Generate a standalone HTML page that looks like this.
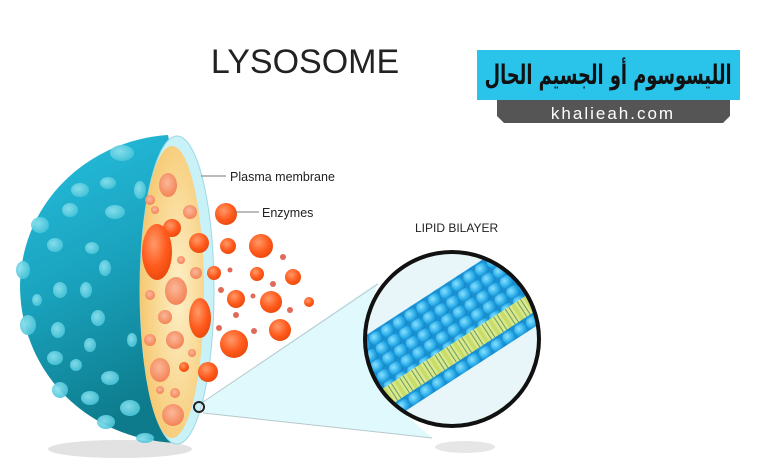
<!DOCTYPE html>
<html><head><meta charset="utf-8"><style>
html,body{margin:0;padding:0;background:#fff;}
svg{display:block}
#ar{position:absolute;left:477px;top:50px;width:263px;height:50px;display:flex;align-items:center;justify-content:center;overflow:visible}
#ar span{display:inline-block;white-space:nowrap;font-family:"DejaVu Sans",sans-serif;font-weight:bold;font-size:27px;color:#111;transform:scaleX(0.66);direction:rtl}
</style></head><body>
<div style="position:relative;width:780px;height:470px">
<svg width="780" height="470" viewBox="0 0 780 470" xmlns="http://www.w3.org/2000/svg">
<defs>
<linearGradient id="dome" x1="0" y1="0" x2="0.3" y2="1">
<stop offset="0" stop-color="#26c0e0"/><stop offset="0.5" stop-color="#1aa3be"/><stop offset="1" stop-color="#0d7b8c"/>
</linearGradient>
<radialGradient id="yel" cx="0.6" cy="0.5" r="0.6">
<stop offset="0" stop-color="#fdf0c8"/><stop offset="1" stop-color="#f6c870"/>
</radialGradient>
<radialGradient id="enz" cx="0.4" cy="0.35" r="0.7">
<stop offset="0" stop-color="#ff9a6a"/><stop offset="0.6" stop-color="#ff5a1c"/><stop offset="1" stop-color="#e8480c"/>
</radialGradient>
<radialGradient id="enzp" cx="0.45" cy="0.4" r="0.7">
<stop offset="0" stop-color="#fbb89a"/><stop offset="1" stop-color="#f27a4a"/>
</radialGradient>
<radialGradient id="head" cx="0.4" cy="0.35" r="0.65">
<stop offset="0" stop-color="#8ae0ff"/><stop offset="0.6" stop-color="#2eb0ea"/><stop offset="1" stop-color="#1386cc"/>
</radialGradient>
<pattern id="heads" x="0" y="0" width="14" height="12" patternUnits="userSpaceOnUse">
<rect width="14" height="12" fill="#1a8fd0"/>
<circle cx="7" cy="6" r="7" fill="url(#head)"/>
</pattern>
<pattern id="tails" x="0" y="0" width="14" height="20" patternUnits="userSpaceOnUse">
<rect width="14" height="20" fill="#c8dc6a"/>
<rect x="2" width="10" height="20" fill="#dbe88a"/>
<line x1="5" y1="0" x2="5" y2="20" stroke="#4b8a5a" stroke-width="0.8"/>
<line x1="9" y1="0" x2="9" y2="20" stroke="#4b8a5a" stroke-width="0.8"/>
</pattern>
<clipPath id="circ"><circle cx="452" cy="339" r="87"/></clipPath>
<radialGradient id="bump" cx="0.4" cy="0.4" r="0.6">
<stop offset="0" stop-color="#8fe3f0"/><stop offset="1" stop-color="#4cc6da"/>
</radialGradient>
</defs>

<text x="305" y="73" font-family="Liberation Sans, sans-serif" font-size="34" fill="#222" text-anchor="middle">LYSOSOME</text>

<path d="M497,100 L730,100 L730,116 L723,123 L504,123 L497,116 Z" fill="#555"/>
<rect x="477" y="50" width="263" height="50" fill="#2ac3ea"/>
<text x="613" y="119" font-family="Liberation Sans, sans-serif" font-size="17" fill="#fff" text-anchor="middle" letter-spacing="2">khalieah.com</text>

<ellipse cx="120" cy="449" rx="72" ry="9" fill="#e2e2e2"/>
<ellipse cx="465" cy="447" rx="30" ry="6" fill="#e6e6e6"/>

<path d="M203,402 L378,282 L372,300 L366,360 L400,410 L432,438 L203,413 Z" fill="#dff9fc"/>
<line x1="203" y1="402" x2="378" y2="284" stroke="#b8c8cc" stroke-width="1"/>
<line x1="203" y1="413" x2="432" y2="438" stroke="#b8c8cc" stroke-width="1"/>

<path d="M168,135 C90,140 22,200 20,285 C20,370 85,440 178,443 L200,300 Z" fill="url(#dome)"/>
<g fill="url(#bump)" opacity="0.9">
<ellipse cx="122" cy="153" rx="12" ry="8"/><ellipse cx="80" cy="190" rx="9" ry="7"/><ellipse cx="108" cy="183" rx="8" ry="6"/>
<ellipse cx="40" cy="225" rx="9" ry="8"/><ellipse cx="70" cy="210" rx="8" ry="7"/><ellipse cx="115" cy="212" rx="10" ry="7"/>
<ellipse cx="55" cy="245" rx="8" ry="7"/><ellipse cx="92" cy="248" rx="7" ry="6"/><ellipse cx="105" cy="268" rx="6" ry="8"/>
<ellipse cx="23" cy="270" rx="7" ry="9"/><ellipse cx="60" cy="290" rx="7" ry="8"/><ellipse cx="86" cy="290" rx="6" ry="8"/>
<ellipse cx="28" cy="325" rx="8" ry="10"/><ellipse cx="98" cy="318" rx="7" ry="8"/><ellipse cx="37" cy="300" rx="5" ry="6"/>
<ellipse cx="58" cy="330" rx="7" ry="8"/><ellipse cx="90" cy="345" rx="6" ry="7"/><ellipse cx="55" cy="358" rx="8" ry="7"/>
<ellipse cx="76" cy="365" rx="6" ry="6"/><ellipse cx="110" cy="378" rx="9" ry="7"/><ellipse cx="60" cy="390" rx="8" ry="8"/>
<ellipse cx="90" cy="398" rx="9" ry="7"/><ellipse cx="130" cy="408" rx="10" ry="8"/><ellipse cx="106" cy="422" rx="9" ry="7"/>
<ellipse cx="145" cy="438" rx="9" ry="5"/><ellipse cx="140" cy="190" rx="6" ry="9"/><ellipse cx="132" cy="340" rx="5" ry="7"/>
</g>

<ellipse cx="177" cy="290" rx="37" ry="154" fill="#c8f2f8" stroke="#9fd8e2" stroke-width="1"/>
<ellipse cx="172" cy="292" rx="32" ry="146" fill="url(#yel)"/>
<g>
<ellipse cx="168" cy="185" rx="9" ry="12" fill="url(#enzp)"/>
<circle cx="150" cy="200" r="5" fill="url(#enzp)"/>
<circle cx="190" cy="212" r="7" fill="url(#enzp)"/>
<circle cx="155" cy="210" r="4" fill="url(#enzp)"/>
<circle cx="172" cy="228" r="9" fill="url(#enz)"/>
<ellipse cx="157" cy="252" rx="15" ry="28" fill="url(#enz)"/>
<circle cx="199" cy="243" r="10" fill="url(#enz)"/>
<circle cx="181" cy="260" r="4" fill="url(#enzp)"/>
<circle cx="196" cy="273" r="6" fill="url(#enzp)"/>
<ellipse cx="176" cy="291" rx="11" ry="14" fill="url(#enzp)"/>
<circle cx="150" cy="295" r="5" fill="url(#enzp)"/>
<ellipse cx="200" cy="318" rx="11" ry="20" fill="url(#enz)"/>
<circle cx="165" cy="317" r="7" fill="url(#enzp)"/>
<circle cx="150" cy="340" r="6" fill="url(#enzp)"/>
<circle cx="175" cy="340" r="9" fill="url(#enzp)"/>
<circle cx="192" cy="353" r="4" fill="url(#enzp)"/>
<ellipse cx="160" cy="370" rx="10" ry="12" fill="url(#enzp)"/>
<circle cx="184" cy="367" r="5" fill="url(#enz)"/>
<circle cx="160" cy="390" r="4" fill="url(#enzp)"/>
<circle cx="175" cy="393" r="5" fill="url(#enzp)"/>
<circle cx="173" cy="415" r="11" fill="url(#enzp)"/>
</g>

<g fill="url(#enz)">
<circle cx="226" cy="214" r="11"/><circle cx="228" cy="246" r="8"/><circle cx="261" cy="246" r="12"/>
<circle cx="214" cy="273" r="7"/><circle cx="257" cy="274" r="7"/><circle cx="293" cy="277" r="8"/>
<circle cx="236" cy="299" r="9"/><circle cx="271" cy="302" r="11"/><circle cx="309" cy="302" r="5"/>
<circle cx="234" cy="344" r="14"/><circle cx="280" cy="330" r="11"/><circle cx="208" cy="372" r="10"/>
</g>
<g fill="#e06a5a">
<circle cx="230" cy="270" r="2.5"/><circle cx="283" cy="257" r="3"/><circle cx="221" cy="290" r="3"/>
<circle cx="236" cy="315" r="3"/><circle cx="254" cy="331" r="3"/><circle cx="290" cy="310" r="3"/>
<circle cx="273" cy="284" r="3"/><circle cx="219" cy="328" r="3"/><circle cx="253" cy="296" r="2.5"/>
</g>

<circle cx="199" cy="407" r="5" fill="none" stroke="#222" stroke-width="2"/>

<line x1="201" y1="176" x2="226" y2="176" stroke="#777" stroke-width="1"/>
<text x="230" y="181" font-family="Liberation Sans, sans-serif" font-size="12.5" fill="#222">Plasma membrane</text>
<line x1="234" y1="212" x2="259" y2="212" stroke="#777" stroke-width="1"/>
<text x="262" y="217" font-family="Liberation Sans, sans-serif" font-size="12.5" fill="#222">Enzymes</text>
<text x="415" y="232" font-family="Liberation Sans, sans-serif" font-size="12" fill="#222">LIPID BILAYER</text>

<circle cx="452" cy="339" r="87" fill="#e9f6f9"/>
<g clip-path="url(#circ)">
<g transform="translate(452,339) rotate(-33)">
<rect x="-150" y="-50" width="300" height="54" fill="url(#heads)"/>
<rect x="-150" y="4" width="300" height="20" fill="url(#tails)"/>
<rect x="-150" y="22" width="300" height="13" fill="url(#heads)"/>
</g>
</g>
<circle cx="452" cy="339" r="87" fill="none" stroke="#111" stroke-width="4"/>
</svg>
<div id="ar"><span>الليسوسوم أو الجسيم الحال</span></div>
</div>
</body></html>
